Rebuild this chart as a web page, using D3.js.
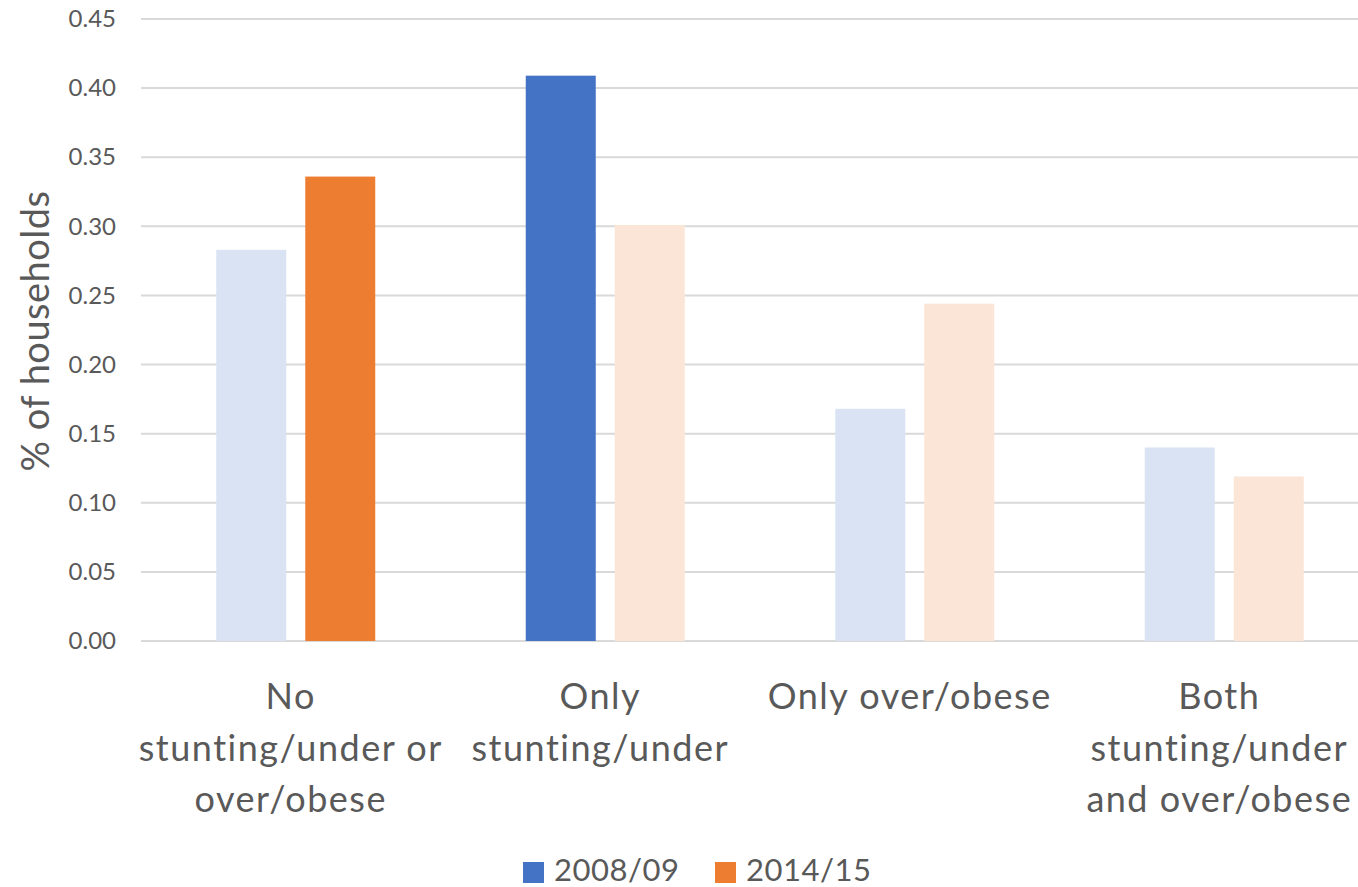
<!DOCTYPE html>
<html>
<head>
<meta charset="utf-8">
<script src="https://cdn.jsdelivr.net/npm/d3@7"></script>
<style>
  html, body { margin: 0; padding: 0; background: #ffffff; }
  svg { display: block; font-family: Lato, "Open Sans", sans-serif; }
</style>
</head>
<body>
<svg id="chart" width="1358" height="887"></svg>
<script>
// Household malnutrition categories
const categories = [
  ["No", "stunting/under or", "over/obese"],
  ["Only", "stunting/under"],
  ["Only over/obese"],
  ["Both", "stunting/under", "and over/obese"]
];
const series = ["2008/09", "2014/15"];
const values2008 = [0.283, 0.409, 0.168, 0.140];
const values2014 = [0.336, 0.301, 0.244, 0.119];
// which survey round is shown at full strength in each group
const emphasis = ["2014/15", "2008/09", null, null];
const yTicks = [0, 0.05, 0.10, 0.15, 0.20, 0.25, 0.30, 0.35, 0.40, 0.45];

const fullColor = { "2008/09": "#4472C4", "2014/15": "#ED7D31" };
const paleColor = { "2008/09": "#DAE3F3", "2014/15": "#FBE5D6" };
const textColor = "#595959";

const svg = d3.select("#chart");
const keys = categories.map((c, i) => "g" + i);

const rows = keys.map((k, i) => ({
  key: k,
  label: categories[i],
  vals: [
    { s: series[0], v: values2008[i] },
    { s: series[1], v: values2014[i] }
  ],
  emph: emphasis[i]
}));

const x0 = d3.scaleBand().domain(keys).range([141, 1379]).paddingInner(0).paddingOuter(0);
const x1 = d3.scaleBand().domain(series).range([75.25, 234.25]).paddingInner(19 / 89).paddingOuter(0);
const y = d3.scaleLinear().domain([0, 0.45]).range([641, 19]);

// horizontal gridlines
svg.append("g")
  .selectAll("line")
  .data(yTicks)
  .join("line")
  .attr("x1", 141)
  .attr("x2", 1379)
  .attr("y1", d => y(d))
  .attr("y2", d => y(d))
  .attr("stroke", "#D9D9D9")
  .attr("stroke-width", 2);

// y-axis tick labels
const yAxis = d3.axisLeft(y).tickValues(yTicks).tickFormat(d3.format(".2f")).tickSize(0).tickPadding(0);
const yg = svg.append("g").attr("transform", "translate(116,0)").call(yAxis);
yg.select(".domain").remove();
yg.selectAll("text")
  .attr("fill", textColor)
  .attr("font-size", 24)
  .attr("font-family", "Lato, sans-serif");

// bars
const groups = svg.append("g")
  .selectAll("g")
  .data(rows)
  .join("g")
  .attr("transform", d => `translate(${x0(d.key)},0)`);

groups.selectAll("rect")
  .data(d => d.vals.map(v => ({ ...v, emph: d.emph })))
  .join("rect")
  .attr("x", d => x1(d.s))
  .attr("width", x1.bandwidth())
  .attr("y", d => y(d.v))
  .attr("height", d => y(0) - y(d.v))
  .attr("fill", d => d.emph === d.s ? fullColor[d.s] : paleColor[d.s]);

// category labels
const labels = svg.append("g")
  .selectAll("text")
  .data(rows)
  .join("text")
  .attr("text-anchor", "middle")
  .attr("fill", textColor)
  .attr("font-size", 36)
  .attr("letter-spacing", 1.5)
  .attr("transform", d => `translate(${x0(d.key) + x0.bandwidth() / 2 - 5},709)`);

labels.selectAll("tspan")
  .data(d => d.label)
  .join("tspan")
  .attr("x", 0)
  .attr("y", (d, i) => i * 51.5)
  .text(d => d);

// y-axis title
svg.append("text")
  .attr("transform", "translate(49,331) rotate(-90)")
  .attr("text-anchor", "middle")
  .attr("fill", textColor)
  .attr("font-size", 38)
  .attr("letter-spacing", 0.5)
  .text("% of households");

// legend
const legendX = [523, 715];
const legend = svg.append("g")
  .selectAll("g")
  .data(series)
  .join("g")
  .attr("transform", (d, i) => `translate(${legendX[i]},862)`);

legend.append("rect")
  .attr("width", 21)
  .attr("height", 21)
  .attr("fill", d => fullColor[d]);

legend.append("text")
  .attr("x", 31)
  .attr("y", 19)
  .attr("fill", textColor)
  .attr("font-size", 31)
  .attr("letter-spacing", 0.5)
  .text(d => d);
</script>
</body>
</html>
